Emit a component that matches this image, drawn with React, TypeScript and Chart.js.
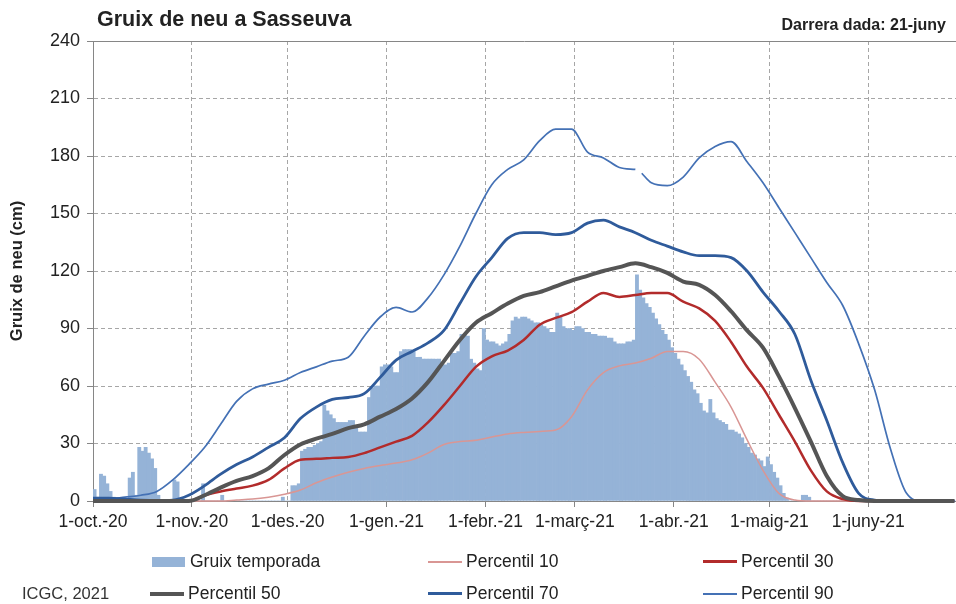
import React, { useEffect, useRef } from 'react';
import { Chart, registerables } from 'chart.js';

Chart.register(...registerables);

const FONT = "'Liberation Sans', Arial, Helvetica, sans-serif";

// X axis: day index from 1-oct-2020 (day 0)
const monthDays = [0, 31, 61, 92, 123, 151, 182, 212, 243];
const monthLabels = ['1-oct.-20', '1-nov.-20', '1-des.-20', '1-gen.-21', '1-febr.-21', '1-març-21', '1-abr.-21', '1-maig-21', '1-juny-21'];
const yTicks = [0, 30, 60, 90, 120, 150, 180, 210, 240];

// Daily snow depth (cm), one value per day from 1-oct-20
const snowOct = [6, 2, 14, 13, 9, 5, 2, 1, 1, 1, 1, 12, 15, 3, 28, 26, 28, 25, 22, 17, 3, 0, 0, 0, 0, 11, 10, 0, 0, 0, 0];
const snowNov = [0, 0, 0, 9, 0, 0, 0, 0, 0, 3, 0, 0, 0, 0, 0, 0, 0, 0, 0, 0, 0, 0, 0, 0, 0, 0, 0, 0, 2, 0];
const snowDec = [0, 8, 8, 9, 26, 27, 28, 28, 29, 30, 31, 50, 47, 45, 43, 41, 41, 41, 41, 42, 42, 38, 36, 36, 36, 54, 59, 60, 60, 70, 71];
const snowJan = [71, 70, 67, 67, 78, 79, 79, 79, 78, 75, 75, 74, 74, 74, 74, 74, 74, 71, 71, 72, 77, 77, 78, 87, 87, 86, 74, 72, 69, 68, 90];
const snowFeb = [84, 83, 83, 82, 81, 82, 83, 87, 94, 96, 95, 96, 96, 95, 94, 93, 93, 92, 91, 90, 88, 88, 98, 96, 91, 90, 90, 89];
const snowMar = [91, 91, 90, 88, 88, 87, 87, 86, 86, 86, 85, 85, 83, 82, 82, 82, 83, 83, 84, 118, 110, 106, 103, 101, 98, 95, 92, 89, 87, 84, 80];
const snowApr = [77, 74, 71, 68, 65, 62, 58, 56, 51, 47, 46, 53, 46, 43, 42, 41, 40, 37, 37, 36, 35, 33, 30, 28, 25, 24, 22, 21, 18, 23];
const snowMay = [19, 15, 12, 8, 4, 1.5, 0, 0, 0, 0, 3, 3, 2, 0, 0, 0, 0, 0, 0, 0, 0, 0, 0, 0, 0, 0, 0, 0, 0, 0, 0];
const snowJun = [0, 0, 0, 0, 0, 0, 0, 0, 0, 0, 0, 0, 0, 0, 0, 0, 0, 0, 0, 0, 0, 0, 0, 0, 0, 0, 0, 0, 0, 0];

// Percentile curves sampled every 5 days
const lineDays = [0, 5, 10, 15, 20, 25, 30, 35, 40, 45, 50, 55, 60, 65, 70, 75, 80, 85, 90, 95, 100, 105, 110, 115, 120, 125, 130, 135, 140, 145, 150, 155, 160, 165, 170, 175, 180, 185, 190, 195, 200, 205, 210, 215, 220, 225, 230, 235, 240, 245, 250, 255, 260, 265, 270];
const p10 = [0, 0, 0, 0, 0, 0, 0, 0, 0, 0.5, 1, 2, 3.5, 5.7, 9.5, 12.5, 15, 17, 18.5, 19.8, 21.5, 25, 29.5, 31, 31.7, 33.4, 35, 35.8, 36.3, 37, 44, 58, 67, 70.5, 72, 74.5, 78, 78, 74, 62, 49, 32, 16, 4, 0.5, 0, 0, 0, 0, 0, 0, 0, 0, 0, 0];
const p30 = [0, 0, 0, 0, 0, 0, 0, 3, 5, 6.5, 8, 11, 17, 21.5, 22, 22.5, 23, 25, 28, 31, 34, 41, 50, 60, 70, 75.5, 78.5, 84, 92, 95.5, 98.5, 104, 108.5, 106.5, 107.5, 108.5, 108.5, 104, 100.5, 94, 83, 70, 59, 45, 31, 16, 5, 1, 0, 0, 0, 0, 0, 0, 0];
const p50 = [0, 0, 0, 0, 0, 0, 0, 3, 7, 10.5, 13, 17, 24, 29.5, 32.5, 35, 38, 40, 44, 48, 53.5, 62, 73, 84, 93, 98, 103, 107, 109, 112, 115, 117.5, 120, 122, 124, 122, 119, 114.5, 112.8, 107.5, 99, 89, 80, 65, 48.5, 31, 13, 2.5, 0.5, 0, 0, 0, 0, 0, 0];
const p70 = [1.5, 1.5, 1, 0.5, 0.3, 0.5, 3, 8, 14, 19, 23, 28, 33, 43, 49, 53, 54, 56, 64.5, 73.5, 78, 82.5, 89, 103, 117, 127, 137, 140, 140, 139, 140, 145, 146.5, 143, 140, 136, 133, 130, 128, 128, 127, 120, 109, 99, 87, 63, 42, 20, 4, 0.5, 0, 0, 0, 0, 0];
const p90 = [1, 1, 2, 3, 5, 11, 19, 28, 40, 52, 58.5, 61, 63, 67, 70, 73, 75, 86, 96, 101, 98.6, 106, 118, 133, 150, 165, 173, 178, 188, 194, 194, 182, 179, 174, 173, 166, 164.5, 169, 179, 185, 187.5, 177, 166, 153, 140, 127, 114, 102, 82, 58, 27, 4, 0, 0, 0];
// short break in the 90th percentile curve
const p90GapDays = [171, 172];
const p90GapValues: (number | null)[] = [null, 171];

const COLORS = {
  bar: '#95B3D7',
  p10: '#D99694',
  p30: '#B22B2B',
  p50: '#555555',
  p70: '#2F5B9B',
  p90: '#4471B5',
  grid: '#a6a6a6',
  axis: '#868686',
  text: '#222222',
};

const legendItems = [
  { label: 'Gruix temporada', kind: 'bar', color: COLORS.bar, width: 10, left: 152, row: 0 },
  { label: 'Percentil 10', kind: 'line', color: COLORS.p10, width: 2, left: 428, row: 0 },
  { label: 'Percentil 30', kind: 'line', color: COLORS.p30, width: 3, left: 703, row: 0 },
  { label: 'Percentil 50', kind: 'line', color: COLORS.p50, width: 4, left: 150, row: 1 },
  { label: 'Percentil 70', kind: 'line', color: COLORS.p70, width: 3, left: 428, row: 1 },
  { label: 'Percentil 90', kind: 'line', color: COLORS.p90, width: 2, left: 703, row: 1 },
];

export default function App() {
  const ref = useRef<HTMLCanvasElement>(null);

  useEffect(() => {
    Chart.defaults.font.family = FONT;
    const snow = [...snowOct, ...snowNov, ...snowDec, ...snowJan, ...snowFeb, ...snowMar, ...snowApr, ...snowMay, ...snowJun];
    const pts = (vals: number[]) => lineDays.map((d, i) => ({ x: d, y: vals[i] }));
    const p90Pts = [
      ...pts(p90),
      ...p90GapDays.map((d, i) => ({ x: d, y: p90GapValues[i] })),
    ].sort((a, b) => a.x - b.x);

    const lineBase = {
      type: 'line' as const,
      pointRadius: 0,
      pointHoverRadius: 0,
      fill: false,
      cubicInterpolationMode: 'monotone' as const,
      clip: 6,
      spanGaps: false,
    };

    const frame = {
      id: 'frame',
      beforeDatasetsDraw(chart: any) {
        const { ctx, chartArea: a } = chart;
        ctx.save();
        ctx.strokeStyle = COLORS.axis;
        ctx.lineWidth = 1;
        ctx.beginPath();
        ctx.moveTo(a.left, a.top + 0.5);
        ctx.lineTo(a.right, a.top + 0.5);
        ctx.stroke();
        ctx.restore();
      },
    };

    const chart = new Chart(ref.current as HTMLCanvasElement, {
      type: 'bar',
      data: {
        datasets: [
          {
            type: 'bar',
            label: 'Gruix temporada',
            data: snow.map((v, d) => ({ x: d + 0.5, y: v })),
            backgroundColor: COLORS.bar,
            borderWidth: 0,
            barPercentage: 1,
            categoryPercentage: 1,
            order: 10,
          } as any,
          { ...lineBase, label: 'Percentil 10', data: pts(p10), borderColor: COLORS.p10, borderWidth: 1.5, order: 5 },
          { ...lineBase, label: 'Percentil 30', data: pts(p30), borderColor: COLORS.p30, borderWidth: 2.5, order: 4 },
          { ...lineBase, label: 'Percentil 90', data: p90Pts, borderColor: COLORS.p90, borderWidth: 1.7, order: 3 },
          { ...lineBase, label: 'Percentil 70', data: pts(p70), borderColor: COLORS.p70, borderWidth: 2.8, order: 2 },
          { ...lineBase, label: 'Percentil 50', data: pts(p50), borderColor: COLORS.p50, borderWidth: 4, order: 1 },
        ] as any,
      },
      options: {
        responsive: false,
        animation: false,
        events: [],
        layout: { padding: { left: 0, right: 0, top: 41, bottom: 63 } },
        plugins: { legend: { display: false }, tooltip: { enabled: false }, title: { display: false } },
        scales: {
          x: {
            type: 'linear',
            min: 0,
            max: 270.5,
            bounds: 'data',
            offset: false,
            afterBuildTicks: (s: any) => { s.ticks = monthDays.map((v) => ({ value: v })); },
            afterFit: (s: any) => { s.height = 40; },
            ticks: {
              autoSkip: false,
              maxRotation: 0,
              minRotation: 0,
              padding: 5,
              color: COLORS.text,
              font: { size: 17.5 },
              callback: (_v: any, i: number) => monthLabels[i],
            },
            grid: {
              color: COLORS.grid,
              lineWidth: 1,
              offset: false,
              drawTicks: true,
              tickLength: 6,
              tickColor: COLORS.axis,
              tickBorderDash: [],
              tickWidth: 1,
            },
            border: { display: true, color: COLORS.axis, width: 1, dash: [4, 3] },
          },
          y: {
            type: 'linear',
            min: 0,
            max: 240,
            afterBuildTicks: (s: any) => { s.ticks = yTicks.map((v) => ({ value: v })); },
            afterFit: (s: any) => { s.width = 93; },
            ticks: { padding: 7, color: COLORS.text, font: { size: 18 } },
            grid: {
              color: (c: any) => (c.tick && c.tick.value === 240 ? 'rgba(0,0,0,0)' : COLORS.grid),
              lineWidth: 1,
              drawTicks: true,
              tickLength: 6,
              tickColor: COLORS.axis,
              tickBorderDash: [],
              tickWidth: 1,
            },
            border: { display: true, color: COLORS.axis, width: 1, dash: [4, 3] },
            title: {
              display: true,
              text: 'Gruix de neu (cm)',
              color: COLORS.text,
              font: { size: 16.5, weight: 'bold' },
              padding: { top: 8, bottom: 0 },
            },
          },
        },
      } as any,
      plugins: [frame],
    });
    return () => chart.destroy();
  }, []);

  const rowCenter = [561.5, 593.5];
  const fs = 17.5;

  return (
    <div style={{ position: 'absolute', left: 0, top: 0, width: 956, height: 604, background: '#fff', fontFamily: FONT, color: COLORS.text, overflow: 'hidden' }}>
      <canvas ref={ref} width={956} height={604} style={{ position: 'absolute', left: 0, top: 0 }} />
      <div style={{ position: 'absolute', left: 97, top: 9, fontSize: 21.5, lineHeight: 1, fontWeight: 700, whiteSpace: 'nowrap' }}>Gruix de neu a Sasseuva</div>
      <div style={{ position: 'absolute', right: 10, top: 17, fontSize: 16, lineHeight: 1, fontWeight: 700, whiteSpace: 'nowrap' }}>Darrera dada: 21-juny</div>
      <div style={{ position: 'absolute', left: 22, top: rowCenter[1] - 8.5, fontSize: 16.5, lineHeight: 1, color: '#333', whiteSpace: 'nowrap' }}>ICGC, 2021</div>
      {legendItems.map((it) => {
        const cy = rowCenter[it.row];
        const sw = it.kind === 'bar' ? 33 : 34;
        return (
          <React.Fragment key={it.label}>
            <div style={{ position: 'absolute', left: it.left, top: Math.round(cy - it.width / 2), width: sw, height: it.width, background: it.color }} />
            <div style={{ position: 'absolute', left: it.left + 38, top: cy - fs * 0.49, fontSize: fs, lineHeight: 1, whiteSpace: 'nowrap' }}>{it.label}</div>
          </React.Fragment>
        );
      })}
    </div>
  );
}
